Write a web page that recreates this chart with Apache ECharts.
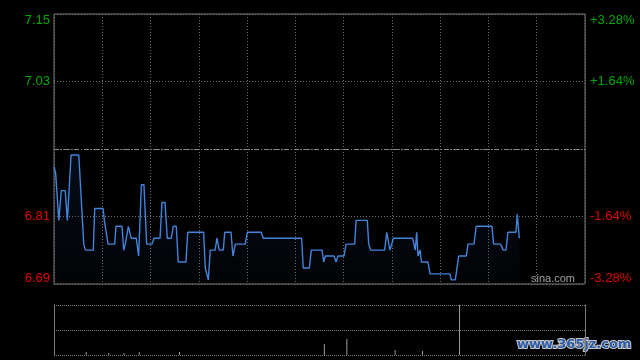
<!DOCTYPE html>
<html><head><meta charset="utf-8">
<script src="https://cdn.jsdelivr.net/npm/echarts@6/dist/echarts.min.js"></script>
<style>html,body{margin:0;padding:0;background:#000;}#c{width:640px;height:360px;}</style>
</head><body><div id="c"></div>
<script>
// ---- data ----
const prevClose = 6.92;
const pctRange = 0.0328;
const leftTickLabels = ['6.69', '6.81', '', '7.03', '7.15'];
const rightTickLabels = ['-3.28%', '-1.64%', '', '+1.64%', '+3.28%'];
// minutes since market open (HK session, 330 trading minutes)
const minutes = [0, 1, 3, 4.5, 7, 8.3, 9.5, 10.6, 15.4, 18.5, 19.5, 24.4, 25.3, 30.5, 31.3, 32.3, 33.6, 37.7, 38.5, 42.3,
  43.3, 44.3, 45.2, 46.2, 47, 48, 51.1, 52.6, 54.3, 55.9, 57.6, 60.9, 62.1, 65.9, 67.1, 69, 70.4, 72.9, 74.1, 76,
  77.2, 82, 83.1, 93, 94, 94.6, 95.9, 97.1, 100.1, 101.3, 102.7, 105.2, 106.1, 110, 111.2, 112.7, 118.9, 120.1, 128.8, 130.1,
  153.9, 154.9, 158.7, 159.9, 166.6, 167.6, 168.6, 174, 175.3, 176.5, 180.2, 181.5, 186.9, 187.7, 194.7, 195.6, 196.8, 205.5, 206.8, 207.6,
  208.8, 210.9, 222.9, 224.5, 225.4, 226.2, 227.5, 228.3, 232.4, 233.7, 246.1, 246.9, 249.4, 251.5, 256.2, 257.3, 261, 262.4, 272.2, 273.2,
  277.6, 279.2, 280.9, 282.1, 287.1, 287.9, 289.2];
const prices = [6.89, 6.88, 6.80, 6.85, 6.85, 6.80, 6.80, 6.91, 6.91, 6.76, 6.75, 6.75, 6.82, 6.82, 6.80, 6.80, 6.76, 6.76, 6.79, 6.79,
  6.75, 6.76, 6.76, 6.79, 6.79, 6.77, 6.77, 6.74, 6.86, 6.86, 6.76, 6.76, 6.77, 6.77, 6.83, 6.83, 6.77, 6.77, 6.79, 6.79,
  6.73, 6.73, 6.78, 6.78, 6.72, 6.72, 6.70, 6.75, 6.75, 6.77, 6.75, 6.75, 6.78, 6.78, 6.74, 6.76, 6.76, 6.78, 6.78, 6.77,
  6.77, 6.72, 6.72, 6.75, 6.75, 6.73, 6.74, 6.74, 6.73, 6.74, 6.74, 6.76, 6.76, 6.80, 6.80, 6.76, 6.75, 6.75, 6.78, 6.78,
  6.75, 6.77, 6.77, 6.75, 6.78, 6.74, 6.75, 6.73, 6.73, 6.71, 6.71, 6.70, 6.70, 6.74, 6.74, 6.76, 6.76, 6.79, 6.79, 6.76,
  6.76, 6.75, 6.75, 6.78, 6.78, 6.81, 6.77];
const volMinutes = [20, 34, 43.5, 53, 78, 168, 182, 212, 229, 252];
const volumes = [30, 20, 20, 30, 30, 110, 160, 50, 40, 500];
// ---------------------------------------

const yMin = +(prevClose * (1 - pctRange)).toFixed(3);
const yMax = +(prevClose * (1 + pctRange)).toFixed(3);
const yInt = +((yMax - yMin) / 4).toFixed(5);
const volMax = Math.max(...volumes);
const GREEN = '#00a800', RED = '#e00000';
const FONT = "'Liberation Sans Narrow','Arial Narrow','Liberation Sans',Arial,sans-serif";

function labelRich() {
  return {
    gt: {color: GREEN, padding: [12, 0, 0, 0], fontSize: 13, fontFamily: FONT},
    g: {color: GREEN, fontSize: 13, fontFamily: FONT},
    r: {color: RED, fontSize: 13, fontFamily: FONT},
    rb: {color: RED, padding: [0, 0, 12, 0], fontSize: 13, fontFamily: FONT}
  };
}
function fmt(labels) {
  return function (v, i) {
    const t = labels[i];
    if (!t) return '';
    if (i === labels.length - 1) return '{gt|' + t + '}';
    if (i === 0) return '{rb|' + t + '}';
    return (i > 2 ? '{g|' : '{r|') + t + '}';
  };
}

const chart = echarts.init(document.getElementById('c'), null, {renderer: 'canvas'});
chart.setOption({
  backgroundColor: '#000',
  animation: false,
  grid: [
    {left: 54, top: 14, width: 531, height: 270, show: true, borderColor: '#7a7a7a', borderWidth: 1, backgroundColor: 'transparent'},
    {left: 54, top: 305, width: 531, height: 50, show: false}
  ],
  xAxis: [
    {type: 'value', gridIndex: 0, min: 0, max: 330, interval: 30,
      axisLine: {show: false}, axisTick: {show: false}, axisLabel: {show: false},
      splitLine: {show: true, lineStyle: {color: '#6e6e6e', type: [1, 2], width: 1}}},
    {type: 'value', gridIndex: 1, min: 0, max: 330, interval: 30,
      axisLine: {show: false}, axisTick: {show: false}, axisLabel: {show: false}, splitLine: {show: false}}
  ],
  yAxis: [
    {type: 'value', gridIndex: 0, position: 'left', min: yMin, max: yMax, interval: yInt,
      axisLine: {show: false}, axisTick: {show: false},
      axisLabel: {margin: 4, formatter: fmt(leftTickLabels), rich: labelRich()},
      splitLine: {show: true, lineStyle: {color: '#6e6e6e', type: [1, 2], width: 1}}},
    {type: 'value', gridIndex: 0, position: 'right', min: yMin, max: yMax, interval: yInt,
      axisLine: {show: false}, axisTick: {show: false},
      axisLabel: {margin: 5, formatter: fmt(rightTickLabels), rich: labelRich()},
      splitLine: {show: false}},
    {type: 'value', gridIndex: 1, position: 'left', min: 0, max: volMax, interval: volMax / 2,
      axisLine: {show: true, lineStyle: {color: '#7a7a7a'}}, axisTick: {show: false}, axisLabel: {show: false},
      splitLine: {show: true, lineStyle: {color: '#7a7a7a', type: [1, 1], width: 1}}},
    {type: 'value', gridIndex: 1, position: 'right', min: 0, max: volMax, interval: volMax / 2,
      axisLine: {show: true, lineStyle: {color: '#7a7a7a'}}, axisTick: {show: false}, axisLabel: {show: false},
      splitLine: {show: false}}
  ],
  series: [
    {type: 'line', xAxisIndex: 0, yAxisIndex: 0,
      data: minutes.map((m, i) => [m, prices[i]]),
      showSymbol: false, smooth: false,
      lineStyle: {color: '#4283dc', width: 1.4},
      areaStyle: {origin: 'start', color: new echarts.graphic.LinearGradient(0, 0, 0, 1, [
        {offset: 0, color: 'rgba(40,80,150,0.22)'}, {offset: 1, color: 'rgba(40,80,150,0.05)'}])},
      markLine: {silent: true, symbol: 'none', label: {show: false},
        lineStyle: {color: '#8a8a8a', type: [5, 2, 1, 2], width: 1},
        data: [{yAxis: prevClose}]}},
    {type: 'bar', xAxisIndex: 1, yAxisIndex: 2,
      data: volMinutes.map((m, i) => [m, volumes[i]]),
      barWidth: 1, itemStyle: {color: '#9a9a9a'}}
  ],
  graphic: [
    {type: 'text', left: 531, top: 273, style: {text: 'sina.com', fill: '#a0a0a0', font: "11px 'Liberation Sans', Arial, sans-serif"}},
    {type: 'text', left: 516, top: 337, style: {text: 'www.365jz.com', fill: '#2d5ca8', stroke: '#c8c8c8', lineWidth: 2,
      font: "bold 13px 'DejaVu Sans', Verdana, sans-serif"}}
  ]
});
</script>
</body></html>
